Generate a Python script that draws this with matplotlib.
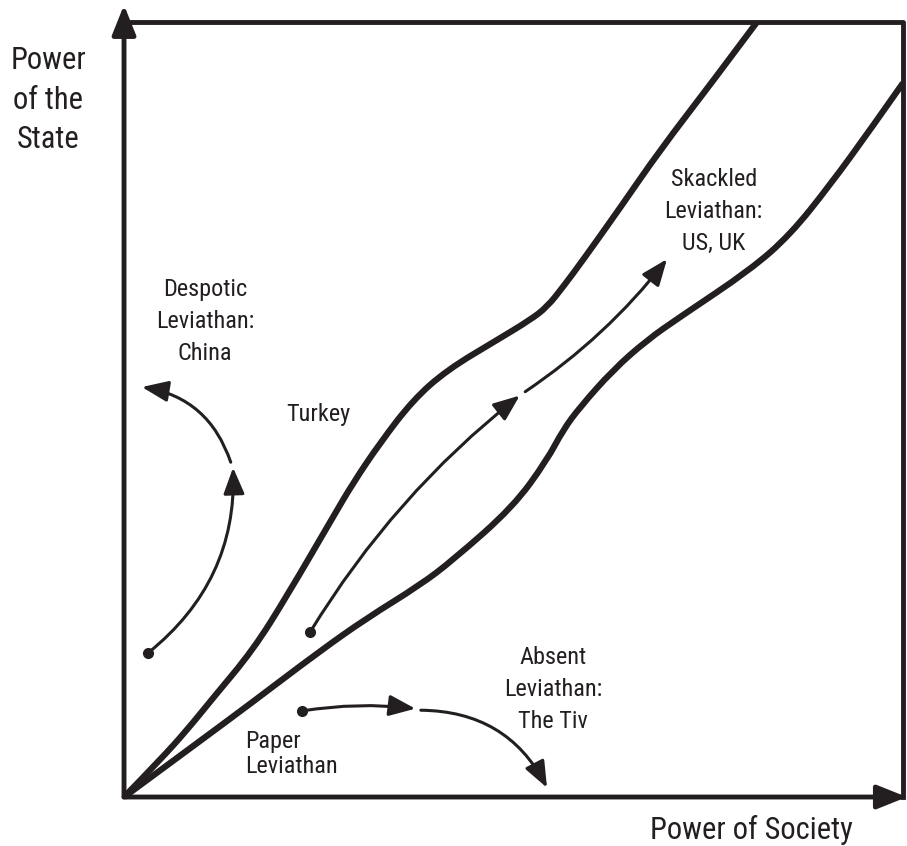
import matplotlib.pyplot as plt
from matplotlib import font_manager
from matplotlib.patches import FancyArrowPatch, PathPatch
from matplotlib.path import Path

# corridor boundaries (power of society, power of the state), 0-100 scale
upper_x = [0, 4.62, 8.09, 11.42, 16.56, 20.92, 26.83, 29.40, 32.86, 37.10, 41.46, 47.88,
           52.12, 54.30, 56.35, 58.92, 63.67, 68.81, 75.22, 81.26]
upper_y = [0, 4.77, 8.65, 12.77, 18.97, 25.94, 36.13, 40.52, 45.68, 51.23, 55.10, 58.97,
           61.55, 63.23, 65.81, 69.29, 76.00, 83.48, 91.87, 100]
lower_x = [0, 9.76, 16.17, 25.16, 31.19, 38.00, 42.23, 49.94, 54.30, 56.35, 58.54, 62.77, 67.14,
           71.37, 80.36, 85.49, 90.63, 95.76, 100]
lower_y = [0, 7.23, 12.00, 18.84, 23.10, 27.35, 30.58, 37.42, 43.48, 47.35, 50.32, 55.10, 58.97,
           61.94, 68.00, 72.52, 78.97, 86.06, 92.13]

# paths: start dot, then two arrow segments (start, end, bend)
paths = {
    "corridor": [(23.9, 21.3), [((23.9, 21.3), (50.8, 51.8), -0.09), ((51.5, 52.3), (69.7, 69.4), 0.08)]],
    "despotic": [(3.1, 18.6), [((3.1, 18.6), (14.0, 42.5), 0.25), ((13.7, 43.2), (2.3, 52.9), 0.3)]],
    "paper": [(22.8, 11.1), [((22.8, 11.1), (37.4, 11.4), -0.07), ((38.1, 11.2), (54.3, 1.2), -0.3)]],
}

labels = ["Despotic\nLeviathan:\nChina", "Turkey", "Skackled\nLeviathan:\nUS, UK",
          "Absent\nLeviathan:\nThe Tiv", "Paper\nLeviathan"]
label_pos = [(10.4, 61.3), (24.9, 49.3), (75.7, 75.5), (55.1, 13.9), (15.5, 5.6)]

names = {f.name for f in font_manager.fontManager.ttflist}
font = "DejaVu Sans"
for cand in ["Liberation Sans Narrow", "Roboto Condensed", "DejaVu Sans Condensed", "Roboto"]:
    if cand in names:
        font = cand
        break
plt.rcParams['font.family'] = [font, 'DejaVu Sans']

ink = '#231f20'


def smooth(xs, ys):
    # quadratic b-spline through the traced points
    pts = list(zip(xs, ys))
    verts = [pts[0]]
    codes = [Path.MOVETO]
    for i in range(1, len(pts) - 2):
        mid = ((pts[i][0] + pts[i + 1][0]) / 2, (pts[i][1] + pts[i + 1][1]) / 2)
        verts += [pts[i], mid]
        codes += [Path.CURVE3, Path.CURVE3]
    verts += [pts[-2], pts[-1]]
    codes += [Path.CURVE3, Path.CURVE3]
    return Path(verts, codes)


fig = plt.figure(figsize=(9.07, 8.46), dpi=100)
ax = fig.add_axes([0, 0, 1, 1])
ax.set_xlim(-15.92, 100.51)
ax.set_ylim(-6.32, 102.84)
ax.axis('off')

# frame with arrowed axes
ax.plot([0, 100, 100], [100, 100, 0], color=ink, lw=3.5, solid_capstyle='projecting')
ax.add_patch(FancyArrowPatch((0, 0), (0, 102.2), arrowstyle='-|>,head_length=1.0,head_width=0.4',
                             mutation_scale=18, color=ink, lw=3.5, shrinkA=0, shrinkB=0))
ax.add_patch(FancyArrowPatch((0, 0), (100.5, 0), arrowstyle='-|>,head_length=1.0,head_width=0.4',
                             mutation_scale=18, color=ink, lw=3.5, shrinkA=0, shrinkB=0))

for xs, ys in [(upper_x, upper_y), (lower_x, lower_y)]:
    ax.add_patch(PathPatch(smooth(xs, ys), facecolor='none', edgecolor=ink, lw=4.5,
                           capstyle='butt', joinstyle='round'))

for key, (dot, segs) in paths.items():
    ax.plot(*dot, 'o', color=ink, ms=7)
    for start, end, rad in segs:
        ax.add_patch(FancyArrowPatch(start, end, connectionstyle=f'arc3,rad={rad}',
                                     arrowstyle='-|>,head_length=1.0,head_width=0.4',
                                     mutation_scale=16, color=ink, lw=2.2, shrinkA=0, shrinkB=0))

for txt, (x, y) in zip(labels, label_pos):
    ha = 'left' if txt.startswith('Paper') else 'center'
    sp = 1.1 if txt.startswith('Paper') else 1.5
    ax.text(x, y, txt, ha=ha, va='center', fontsize=17.5, color=ink, linespacing=sp, multialignment=ha)

ax.text(-9.75, 89.9, "Power\nof the\nState", ha='center', va='center', fontsize=22, color=ink, linespacing=1.45)
ax.text(80.6, -4.3, "Power of Society", ha='center', va='center', fontsize=22, color=ink)

fig.savefig('out.png', dpi=100)
